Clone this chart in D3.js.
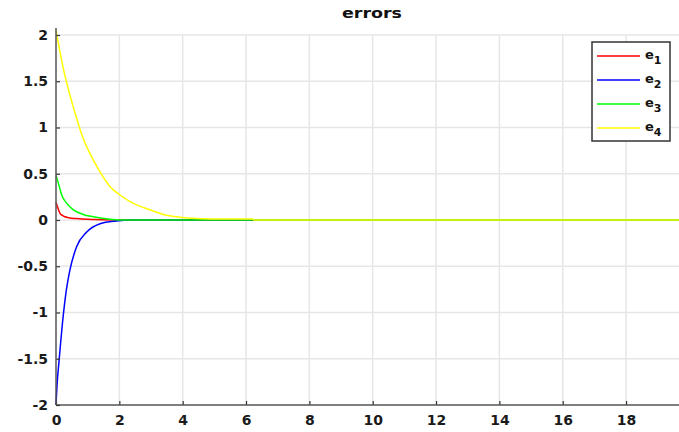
<!DOCTYPE html>
<html>
<head>
<meta charset="utf-8">
<script src="https://cdn.jsdelivr.net/npm/d3@7"></script>
<style>
html,body{margin:0;padding:0;background:#fff;}
svg{display:block;}
</style>
</head>
<body>
<svg id="chart" width="679" height="432"></svg>
<script>
// ---- data ----
const title = "errors";
const xTicks = [0, 2, 4, 6, 8, 10, 12, 14, 16, 18];
const yTicks = [-2, -1.5, -1, -0.5, 0, 0.5, 1, 1.5, 2];
const yTickLabels = ["-2", "-1.5", "-1", "-0.5", "0", "0.5", "1", "1.5", "2"];

const e1T = [0, 0.05, 0.13, 0.2, 0.28, 0.4, 0.65, 1.0, 1.2, 2.0, 20];
const e1V = [0.19, 0.14, 0.07, 0.05, 0.035, 0.025, 0.015, 0.007, 0.005, 0, 0];

const e2T = [0, 0.03, 0.1, 0.23, 0.33, 0.44, 0.65, 0.97, 1.39, 1.9, 2.4, 20];
const e2V = [-2.0, -1.8, -1.51, -1.03, -0.75, -0.54, -0.29, -0.13, -0.04, -0.01, 0, 0];

const e3T = [0, 0.09, 0.18, 0.34, 0.55, 0.86, 1.18, 1.5, 2.0, 20];
const e3V = [0.48, 0.38, 0.27, 0.18, 0.11, 0.06, 0.035, 0.015, 0, 0];

const e4T = [0, 0.23, 0.44, 0.65, 0.86, 1.07, 1.39, 1.71, 2.02, 2.44, 2.97, 3.39, 3.92, 4.3, 4.9, 6.2, 6.25, 20];
const e4V = [2.05, 1.64, 1.35, 1.10, 0.88, 0.72, 0.52, 0.36, 0.27, 0.18, 0.11, 0.06, 0.03, 0.018, 0.012, 0.012, 0, 0];

const seriesNames = ["1", "2", "3", "4"];
const seriesColors = ["#ff0000", "#0000ff", "#00ff00", "#ffff00"];

const series = [
  {t: e1T, v: e1V},
  {t: e2T, v: e2V},
  {t: e3T, v: e3V},
  {t: e4T, v: e4V}
].map((s, i) => ({name: seriesNames[i], color: seriesColors[i],
  pts: s.t.map((t, j) => [t, s.v[j]])}));

// ---- layout ----
const svg = d3.select("#chart");
const W = 679, H = 432;
const mLeft = 56, mTop = 35, mBottom = 405;
const x = d3.scaleLinear().domain([0, 20]).range([mLeft, mLeft + 20 * 31.67]);
const y = d3.scaleLinear().domain([-2, 2]).range([mBottom, mTop]);

const font = "'DejaVu Sans', Arial, sans-serif";

// grid
const grid = svg.append("g");
grid.selectAll("line.gx").data(xTicks.filter(d => d > 0)).enter().append("line")
  .attr("x1", d => x(d)).attr("x2", d => x(d))
  .attr("y1", y(2)).attr("y2", mBottom)
  .attr("stroke", "#e6e6e6").attr("stroke-width", 1.5);
grid.selectAll("line.gy").data(yTicks.filter(d => d > -2)).enter().append("line")
  .attr("x1", mLeft).attr("x2", W)
  .attr("y1", d => y(d)).attr("y2", d => y(d))
  .attr("stroke", "#e6e6e6").attr("stroke-width", 1.5);

// lines
const line = d3.line().x(d => x(d[0])).y(d => y(d[1])).curve(d3.curveMonotoneX);
svg.append("g").selectAll("path").data(series).enter().append("path")
  .attr("d", d => line(d.pts))
  .attr("fill", "none")
  .attr("stroke", d => d.color)
  .attr("stroke-width", 1.5);

// axes
const axisColor = "#555";
const xAxis = d3.axisBottom(x).tickValues(xTicks).tickSize(-4).tickFormat(d3.format("d"));
const yAxis = d3.axisLeft(y).tickValues(yTicks).tickSize(-4).tickFormat((d, i) => yTickLabels[i]);

const gx = svg.append("g").attr("transform", `translate(0,${mBottom})`).call(xAxis);
gx.select(".domain").remove();
gx.append("line").attr("x1", mLeft).attr("x2", W).attr("y1", 0).attr("y2", 0)
  .attr("stroke", axisColor).attr("stroke-width", 1.5);
gx.selectAll(".tick line").attr("stroke", "#333").attr("stroke-width", 1.2);
gx.selectAll(".tick text").attr("y", 10).attr("dy", "0.71em")
  .attr("font-family", font).attr("font-weight", "bold").attr("font-size", 14).attr("fill", "#1a1a1a");

const gy = svg.append("g").attr("transform", `translate(${mLeft},0)`).call(yAxis);
gy.select(".domain").remove();
gy.append("line").attr("x1", 0).attr("x2", 0).attr("y1", 28).attr("y2", mBottom)
  .attr("stroke", axisColor).attr("stroke-width", 1.5);
gy.selectAll(".tick line").attr("stroke", "#333").attr("stroke-width", 1.2);
gy.selectAll(".tick text").attr("x", -8)
  .attr("font-family", font).attr("font-weight", "bold").attr("font-size", 14).attr("fill", "#1a1a1a");

// title
svg.append("text").attr("x", 372).attr("y", 18).attr("text-anchor", "middle")
  .attr("font-family", font).attr("font-weight", "bold").attr("font-size", 14)
  .attr("textLength", 60).attr("lengthAdjust", "spacingAndGlyphs")
  .attr("fill", "#111").text(title);

// legend
const lg = svg.append("g");
lg.append("rect").attr("x", 592).attr("y", 42).attr("width", 78).attr("height", 99)
  .attr("fill", "#fff").attr("stroke", "#333").attr("stroke-width", 1.5);
const rowY = [56, 80, 104, 128];
series.forEach((s, i) => {
  lg.append("line").attr("x1", 597).attr("x2", 640).attr("y1", rowY[i]).attr("y2", rowY[i])
    .attr("stroke", s.color).attr("stroke-width", 1.5);
  const t = lg.append("text").attr("x", 645).attr("y", rowY[i] + 3)
    .attr("font-family", font).attr("font-weight", "bold").attr("font-size", 13).attr("fill", "#111");
  t.append("tspan").text("e");
  t.append("tspan").attr("dy", 5).attr("font-size", 11).text(s.name);
});
</script>
</body>
</html>
